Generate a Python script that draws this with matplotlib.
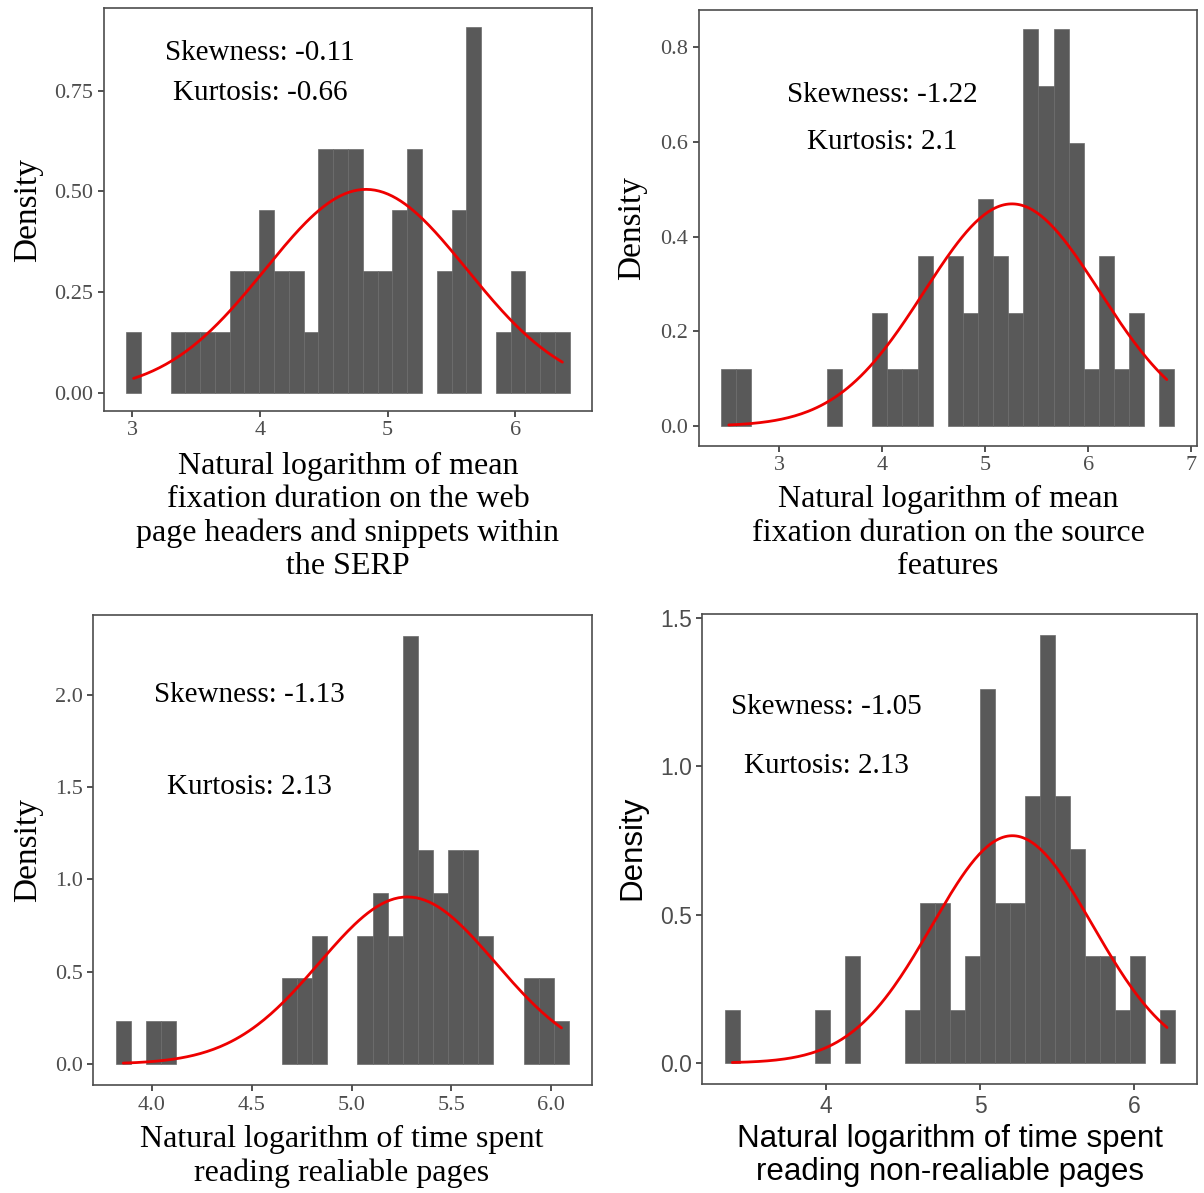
import numpy as np
import matplotlib.pyplot as plt

# ---- data (30 bins each, density histogram + normal curve) ----
serp_counts = [1, 0, 0, 1, 1, 1, 1, 2, 2, 3, 2, 2, 1, 4, 4, 4, 2, 2, 3, 4, 0, 2, 3, 6, 0, 1, 2, 1, 1, 1]
serp_range = (2.952, 6.426)
serp_mean, serp_sd = 4.83, 0.79
serp_stats = ["Skewness: -0.11", "Kurtosis: -0.66"]

src_counts = [1, 1, 0, 0, 0, 0, 0, 1, 0, 0, 2, 1, 1, 3, 0, 3, 2, 4, 3, 2, 7, 6, 7, 5, 1, 3, 1, 2, 0, 1]
src_range = (2.439, 6.836)
src_mean, src_sd = 5.26, 0.85
src_stats = ["Skewness: -1.22", "Kurtosis: 2.1"]

rel_counts = [1, 0, 1, 1, 0, 0, 0, 0, 0, 0, 0, 2, 2, 3, 0, 0, 3, 4, 3, 10, 5, 4, 5, 5, 3, 0, 0, 2, 2, 1]
rel_range = (3.818, 6.090)
rel_mean, rel_sd = 5.28, 0.441
rel_stats = ["Skewness: -1.13", "Kurtosis: 2.13"]

nonrel_counts = [1, 0, 0, 0, 0, 0, 1, 0, 2, 0, 0, 0, 1, 3, 3, 1, 2, 7, 3, 3, 5, 8, 5, 4, 2, 2, 1, 2, 0, 1]
nonrel_range = (3.343, 6.263)
nonrel_mean, nonrel_sd = 5.21, 0.521
nonrel_stats = ["Skewness: -1.05", "Kurtosis: 2.13"]

xlabels = [
    "Natural logarithm of mean\nfixation duration on the web\npage headers and snippets within\nthe SERP",
    "Natural logarithm of mean\nfixation duration on the source\nfeatures",
    "Natural logarithm of time spent\nreading realiable pages",
    "Natural logarithm of time spent\nreading non-realiable pages",
]

SERIF = "Liberation Serif"
SANS = "Liberation Sans"

W, H = 1204, 1193
fig = plt.figure(figsize=(W / 100, H / 100), dpi=100)


def px_axes(l, t, r, b):
    return fig.add_axes([l / W, 1 - b / H, (r - l) / W, (b - t) / H])


def hist_panel(ax, counts, rng, mean, sd, yticks, ytlabels, xticks, xtlabels,
               stats, stat_pos, font):
    counts = np.array(counts, dtype=float)
    edges = np.linspace(rng[0], rng[1], len(counts) + 1)
    w = edges[1] - edges[0]
    dens = counts / (counts.sum() * w)
    keep = dens > 0
    ax.bar(edges[:-1][keep], dens[keep], width=w, align="edge",
           color="#595959", edgecolor="#6b6b6b", linewidth=0.5, zorder=2)
    x = np.linspace(edges[0] + w / 2, edges[-1] - w / 2, 200)
    y = np.exp(-0.5 * ((x - mean) / sd) ** 2) / (sd * np.sqrt(2 * np.pi))
    ax.plot(x, y, color="#ee0000", lw=2.0, zorder=3, solid_capstyle="round")
    xr = rng[1] - rng[0]
    ax.set_xlim(rng[0] - 0.05 * xr, rng[1] + 0.05 * xr)
    ymax = dens.max()
    ax.set_ylim(-0.05 * ymax, 1.05 * ymax)
    fs = 16 if font == SERIF else 16.5
    ax.set_xticks(xticks)
    ax.set_xticklabels(xtlabels, family=font, fontsize=fs, color="#4d4d4d")
    ax.set_yticks(yticks)
    ax.set_yticklabels(ytlabels, family=font, fontsize=fs, color="#4d4d4d")
    ax.tick_params(length=4.5, width=1.2, color="#333333", pad=3)
    for s in ax.spines.values():
        s.set_color("#4d4d4d")
        s.set_linewidth(1.2)
    for txt, (tx, ty) in zip(stats, stat_pos):
        ax.text(tx, ty, txt, ha="center", va="center", family=SERIF,
                fontsize=21, color="black")


ax1 = px_axes(104, 8.4, 592, 411)
hist_panel(ax1, serp_counts, serp_range, serp_mean, serp_sd,
           [0, 0.25, 0.5, 0.75], ["0.00", "0.25", "0.50", "0.75"],
           [3, 4, 5, 6], ["3", "4", "5", "6"],
           serp_stats, [(4.0, 0.844), (4.0, 0.745)], SERIF)

ax2 = px_axes(698.6, 9.5, 1197, 446)
hist_panel(ax2, src_counts, src_range, src_mean, src_sd,
           [0, 0.2, 0.4, 0.6, 0.8], ["0.0", "0.2", "0.4", "0.6", "0.8"],
           [3, 4, 5, 6, 7], ["3", "4", "5", "6", "7"],
           src_stats, [(4.0, 0.699), (4.0, 0.60)], SERIF)

ax3 = px_axes(93, 614.8, 591.7, 1085.4)
hist_panel(ax3, rel_counts, rel_range, rel_mean, rel_sd,
           [0, 0.5, 1.0, 1.5, 2.0], ["0.0", "0.5", "1.0", "1.5", "2.0"],
           [4.0, 4.5, 5.0, 5.5, 6.0], ["4.0", "4.5", "5.0", "5.5", "6.0"],
           rel_stats, [(4.49, 2.0), (4.49, 1.5)], SERIF)

ax4 = px_axes(702.3, 613.6, 1197, 1084.4)
hist_panel(ax4, nonrel_counts, nonrel_range, nonrel_mean, nonrel_sd,
           [0, 0.5, 1.0, 1.5], ["0.0", "0.5", "1.0", "1.5"],
           [4, 5, 6], ["4", "5", "6"],
           nonrel_stats, [(4.0, 1.2), (4.0, 1.0)], SANS)

# y labels
for (xc, yc, font) in [(28, 210, SERIF), (632, 228, SERIF), (28, 850, SERIF), (632, 848, SANS)]:
    fig.text(xc / W, 1 - yc / H, "Density", rotation=90, ha="center", va="center",
             family=font, fontsize=24 if font == SERIF else 22.5)

# x labels
for (xc, yc, font, lab) in [(348, 516.5, SERIF, xlabels[0]), (948, 533, SERIF, xlabels[1]),
                            (342, 1156, SERIF, xlabels[2]), (950, 1155.5, SANS, xlabels[3])]:
    fig.text(xc / W, 1 - yc / H, lab, ha="center", va="center", family=font,
             fontsize=23 if font == SERIF else 22.5,
             linespacing=1.2 if font == SERIF else 1.12)

fig.savefig("out.png", dpi=100)
